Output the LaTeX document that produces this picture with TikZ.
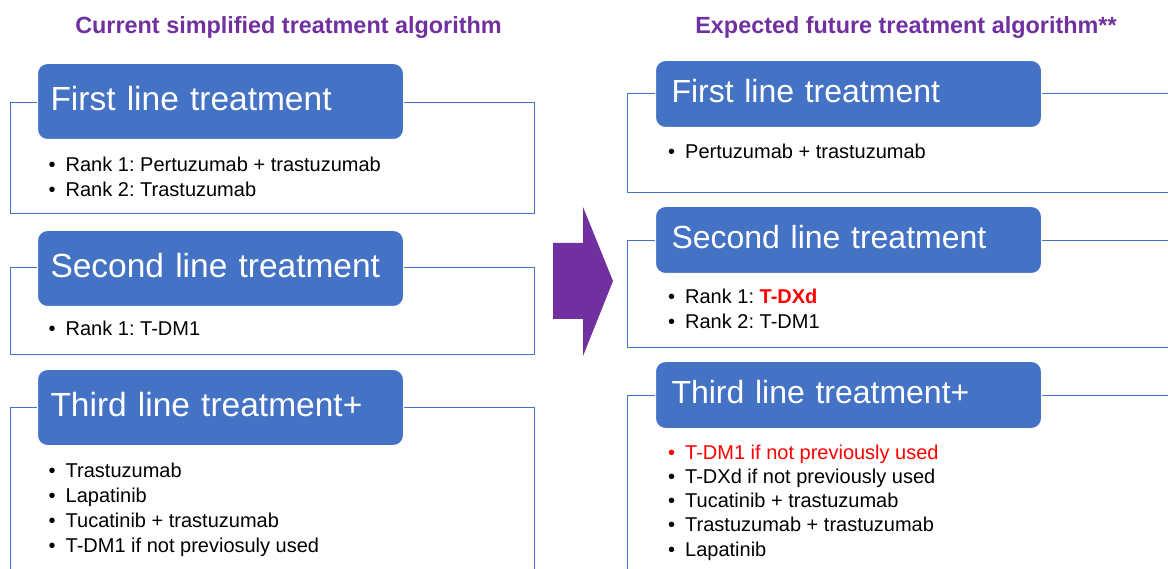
\documentclass[tikz,border=0pt]{standalone}
\usepackage{fontspec}
\setmainfont{Liberation Sans}
\usetikzlibrary{positioning}
\definecolor{algoBlue}{HTML}{4472C4}
\definecolor{algoPurple}{HTML}{7030A0}
\definecolor{algoRed}{HTML}{FF0000}
\newcommand{\bul}[1]{\makebox[17pt][l]{\textbullet}#1}
\frenchspacing

\begin{document}
\begin{tikzpicture}[
        x=1pt, y=-1pt,
        title/.style={font=\bfseries\fontsize{23.4}{28}\selectfont, text=algoPurple, inner sep=0pt, anchor=base},
        panel/.style={rectangle, draw=algoBlue, line width=1.2pt, anchor=north west, inner sep=0pt, minimum width=524pt},
        widepanel/.style={panel, minimum width=560pt},
        head/.style={rectangle, rounded corners=10pt, fill=algoBlue, draw=white, line width=1pt, anchor=north west, text=white, align=left, text depth=6pt},
        curhead/.style={head, font=\fontsize{33.5}{40}\selectfont, inner xsep=13pt, text width=340pt, minimum height=76pt},
        futhead/.style={head, font=\fontsize{32}{38}\selectfont, inner xsep=16pt, text width=354pt, minimum height=67pt},
        % lists sit on the baseline of their last line
        curlist/.style={anchor=base west, align=left, inner sep=0pt, font=\fontsize{20}{25}\selectfont},
        futlist/.style={curlist, font=\fontsize{20}{24.3}\selectfont}
    ]
        \useasboundingbox (0,0) rectangle (1168,569);

        % Titles
        \node[title] (curTitle) at (288.5,34) {Current simplified treatment algorithm};
        \node[title] (futTitle) at (906,34) {Expected future treatment algorithm**};

        % Left column: current algorithm
        \node[panel, minimum height=111pt] (curFirstBox) at (10,102) {};
        \node[curhead] (curFirst) at (37,63) {First line treatment};
        \node[curlist] (curFirstList) at (48.5,197) {\bul{Rank 1: Pertuzumab + trastuzumab}\\ \bul{Rank 2: Trastuzumab}};

        \node[panel, minimum height=87pt] (curSecondBox) at (10,267) {};
        \node[curhead] (curSecond) at (37,230) {Second line treatment};
        \node[curlist] (curSecondList) at (48.5,336) {\bul{Rank 1: T-DM1}};

        \node[panel, minimum height=200pt] (curThirdBox) at (10,407) {};
        \node[curhead] (curThird) at (37,369) {Third line treatment+};
        \node[curlist] (curThirdList) at (48.5,552) {\bul{Trastuzumab}\\ \bul{Lapatinib}\\ \bul{Tucatinib + trastuzumab}\\ \bul{T-DM1 if not previosuly used}};

        % Big arrow
        \fill[algoPurple] (553,243) -- (583,243) -- (583,207) -- (613,281) -- (583,356) -- (583,319) -- (553,319) -- cycle;

        % Right column: expected algorithm
        \node[widepanel, minimum height=99pt] (futFirstBox) at (627,93) {};
        \node[futhead] (futFirst) at (655,60) {First line treatment};
        \node[futlist] (futFirstList) at (668,159) {\bul{Pertuzumab + trastuzumab}};

        \node[widepanel, minimum height=107pt] (futSecondBox) at (627,240) {};
        \node[futhead] (futSecond) at (655,206) {Second line treatment};
        \node[futlist] (futSecondList) at (668,328.3) {\bul{Rank 1: \textcolor{algoRed}{\textbf{T-DXd}}}\\ \bul{Rank 2: T-DM1}};

        \node[widepanel, minimum height=200pt] (futThirdBox) at (627,395) {};
        \node[futhead] (futThird) at (655,361) {Third line treatment+};
        \node[futlist] (futThirdList) at (668,556.2) {\textcolor{algoRed}{\bul{T-DM1 if not previously used}}\\ \bul{T-DXd if not previously used}\\ \bul{Tucatinib + trastuzumab}\\ \bul{Trastuzumab + trastuzumab}\\ \bul{Lapatinib}};
    \end{tikzpicture}
\end{document}
